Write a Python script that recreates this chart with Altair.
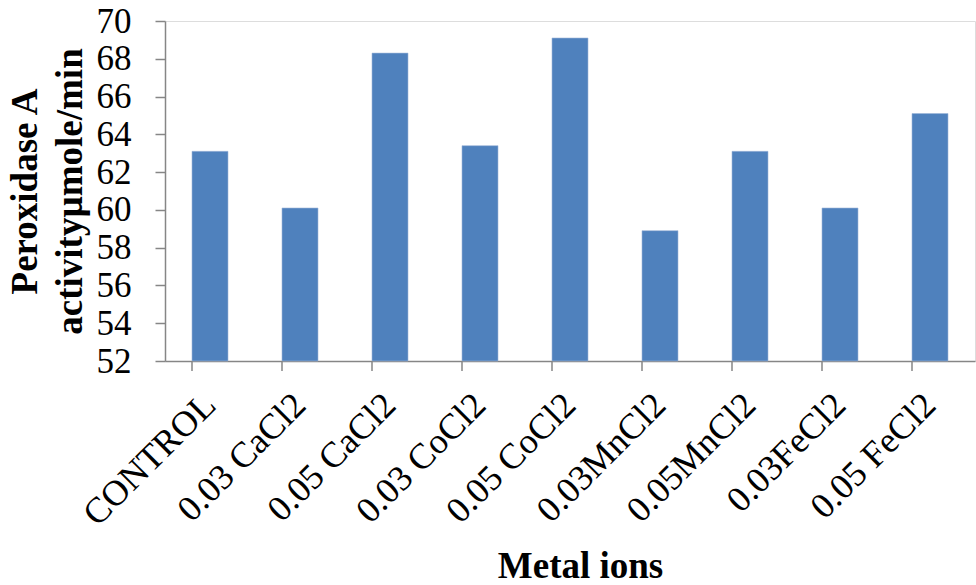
import altair as alt
import pandas as pd

categories = ["CONTROL", "0.03 CaCl2", "0.05 CaCl2", "0.03 CoCl2", "0.05 CoCl2",
              "0.03MnCl2", "0.05MnCl2", "0.03FeCl2", "0.05 FeCl2"]
values = [63.1, 60.1, 68.3, 63.4, 69.1, 58.9, 63.1, 60.1, 65.1]
y_ticks = [52, 54, 56, 58, 60, 62, 64, 66, 68, 70]
Y_MIN, Y_MAX = 52, 70

df = pd.DataFrame({"cat": categories, "val": values})

FONT = "Liberation Serif"
GRAY = "#868686"
W, H = 810, 340

xscale = alt.Scale(paddingInner=0.6, paddingOuter=0.3)

bars = alt.Chart(df).mark_bar(color="#4F81BD", stroke="#9DB6D8", strokeWidth=0.6).encode(
    x=alt.X("cat:N", sort=categories, scale=xscale,
            axis=alt.Axis(title="Metal ions", ticks=False, domainColor=GRAY, domainWidth=1.5,
                          labelAngle=-45, labelAlign="right", labelBaseline="middle",
                          labelFont=FONT, labelFontSize=36, labelColor="black", labelPadding=38,
                          labelLimit=400,
                          titleFont=FONT, titleFontSize=37, titleFontWeight="bold",
                          titleColor="black", titleX=415, titleY=216,
                          titleAlign="center", titleBaseline="alphabetic")),
    y=alt.Y("val:Q", scale=alt.Scale(domain=[Y_MIN, Y_MAX], nice=False, zero=False),
            axis=alt.Axis(values=y_ticks, grid=False, tickSize=10, tickColor=GRAY, tickWidth=1.5,
                          domainColor=GRAY, domainWidth=1.5,
                          labelFont=FONT, labelFontSize=35, labelColor="black", labelPadding=24,
                          title=["Peroxidase A", "activityµmole/min"],
                          titleFont=FONT, titleFontSize=37, titleFontWeight="bold",
                          titleColor="black", titleAngle=-90, titleX=-129, titleY=170,
                          titleAlign="center", titleBaseline="alphabetic", titleLineHeight=45)),
    y2=alt.datum(Y_MIN),
)

ticks = alt.Chart(df).mark_rule(color=GRAY, strokeWidth=1.5).encode(
    x=alt.X("cat:N", sort=categories, scale=xscale, bandPosition=0),
    y=alt.value(H),
    y2=alt.value(H + 10),
)

chart = alt.layer(bars, ticks).properties(
    width=W, height=H,
    autosize=alt.AutoSizeParams(type="none"),
    padding={"left": 165, "top": 21, "right": 1, "bottom": 224},
).configure_view(stroke=None).configure(background="white")

chart.save("out.html", embed_options={"renderer": "svg", "actions": False})
